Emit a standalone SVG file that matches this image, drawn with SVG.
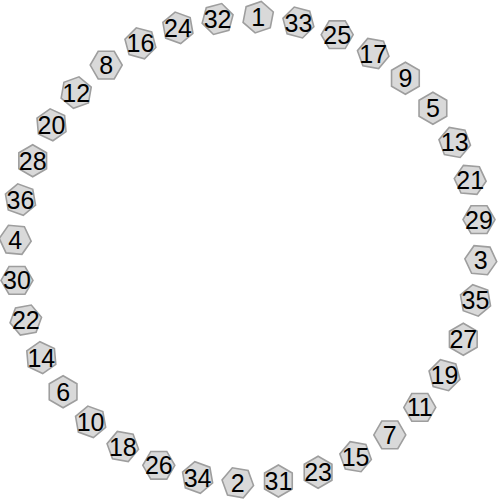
<svg xmlns="http://www.w3.org/2000/svg" xmlns:xlink="http://www.w3.org/1999/xlink" width="500" height="500" viewBox="0 0 500 500">
<style>
.hex{fill:#d9d9d9;stroke:#9e9e9e;stroke-width:1.6}
.lbl{font-family:"Liberation Sans",Arial,sans-serif;font-size:25px;fill:#000;text-anchor:middle}
</style>
<defs>
<polygon id="h" points="16,0 8,13.86 -8,13.86 -16,0 -8,-13.86 8,-13.86"/>
</defs>
<rect width="500" height="500" fill="#fff"/>
<g id="connectors"/>
<g id="n1"><use xlink:href="#h" class="hex" transform="translate(258.2,17.2) rotate(41)"/><text class="lbl" x="258.2" y="26.2">1</text></g>
<g id="n33"><use xlink:href="#h" class="hex" transform="translate(298.4,22.5) rotate(15)"/><text class="lbl" x="298.4" y="31.5">33</text></g>
<g id="n25"><use xlink:href="#h" class="hex" transform="translate(337.2,34.7) rotate(0)"/><text class="lbl" x="337.2" y="43.7">25</text></g>
<g id="n17"><use xlink:href="#h" class="hex" transform="translate(373.2,53.5) rotate(10)"/><text class="lbl" x="373.2" y="62.5">17</text></g>
<g id="n9"><use xlink:href="#h" class="hex" transform="translate(405.4,78.2) rotate(30)"/><text class="lbl" x="405.4" y="87.2">9</text></g>
<g id="n5"><use xlink:href="#h" class="hex" transform="translate(432.9,108.2) rotate(30)"/><text class="lbl" x="432.9" y="117.2">5</text></g>
<g id="n13"><use xlink:href="#h" class="hex" transform="translate(454.7,142.4) rotate(10)"/><text class="lbl" x="454.7" y="151.4">13</text></g>
<g id="n21"><use xlink:href="#h" class="hex" transform="translate(470.2,179.9) rotate(5)"/><text class="lbl" x="470.2" y="188.9">21</text></g>
<g id="n29"><use xlink:href="#h" class="hex" transform="translate(479,219.6) rotate(0)"/><text class="lbl" x="479" y="228.6">29</text></g>
<g id="n3"><use xlink:href="#h" class="hex" transform="translate(480.8,260.2) rotate(5)"/><text class="lbl" x="480.8" y="269.2">3</text></g>
<g id="n35"><use xlink:href="#h" class="hex" transform="translate(475.5,300.4) rotate(20)"/><text class="lbl" x="475.5" y="309.4">35</text></g>
<g id="n27"><use xlink:href="#h" class="hex" transform="translate(463.3,339.2) rotate(30)"/><text class="lbl" x="463.3" y="348.2">27</text></g>
<g id="n19"><use xlink:href="#h" class="hex" transform="translate(444.5,375.2) rotate(15)"/><text class="lbl" x="444.5" y="384.2">19</text></g>
<g id="n11"><use xlink:href="#h" class="hex" transform="translate(419.8,407.4) rotate(0)"/><text class="lbl" x="419.8" y="416.4">11</text></g>
<g id="n7"><use xlink:href="#h" class="hex" transform="translate(389.8,434.9) rotate(0)"/><text class="lbl" x="389.8" y="443.9">7</text></g>
<g id="n15"><use xlink:href="#h" class="hex" transform="translate(355.6,456.7) rotate(10)"/><text class="lbl" x="355.6" y="465.7">15</text></g>
<g id="n23"><use xlink:href="#h" class="hex" transform="translate(318.1,472.2) rotate(30)"/><text class="lbl" x="318.1" y="481.2">23</text></g>
<g id="n31"><use xlink:href="#h" class="hex" transform="translate(278.4,481) rotate(30)"/><text class="lbl" x="278.4" y="490">31</text></g>
<g id="n2"><use xlink:href="#h" class="hex" transform="translate(237.8,482.8) rotate(10)"/><text class="lbl" x="237.8" y="491.8">2</text></g>
<g id="n34"><use xlink:href="#h" class="hex" transform="translate(197.6,477.5) rotate(20)"/><text class="lbl" x="197.6" y="486.5">34</text></g>
<g id="n26"><use xlink:href="#h" class="hex" transform="translate(158.8,465.3) rotate(0)"/><text class="lbl" x="158.8" y="474.3">26</text></g>
<g id="n18"><use xlink:href="#h" class="hex" transform="translate(122.8,446.5) rotate(10)"/><text class="lbl" x="122.8" y="455.5">18</text></g>
<g id="n10"><use xlink:href="#h" class="hex" transform="translate(90.6,421.8) rotate(20)"/><text class="lbl" x="90.6" y="430.8">10</text></g>
<g id="n6"><use xlink:href="#h" class="hex" transform="translate(63.1,391.8) rotate(30)"/><text class="lbl" x="63.1" y="400.8">6</text></g>
<g id="n14"><use xlink:href="#h" class="hex" transform="translate(41.3,357.6) rotate(25)"/><text class="lbl" x="41.3" y="366.6">14</text></g>
<g id="n22"><use xlink:href="#h" class="hex" transform="translate(25.8,320.1) rotate(-10)"/><text class="lbl" x="25.8" y="329.1">22</text></g>
<g id="n30"><use xlink:href="#h" class="hex" transform="translate(17,280.4) rotate(0)"/><text class="lbl" x="17" y="289.4">30</text></g>
<g id="n4"><use xlink:href="#h" class="hex" transform="translate(15.2,239.8) rotate(5)"/><text class="lbl" x="15.2" y="248.8">4</text></g>
<g id="n36"><use xlink:href="#h" class="hex" transform="translate(20.5,199.6) rotate(20)"/><text class="lbl" x="20.5" y="208.6">36</text></g>
<g id="n28"><use xlink:href="#h" class="hex" transform="translate(32.7,160.8) rotate(30)"/><text class="lbl" x="32.7" y="169.8">28</text></g>
<g id="n20"><use xlink:href="#h" class="hex" transform="translate(51.5,124.8) rotate(25)"/><text class="lbl" x="51.5" y="133.8">20</text></g>
<g id="n12"><use xlink:href="#h" class="hex" transform="translate(76.2,92.6) rotate(-20)"/><text class="lbl" x="76.2" y="101.6">12</text></g>
<g id="n8"><use xlink:href="#h" class="hex" transform="translate(106.2,65.1) rotate(0)"/><text class="lbl" x="106.2" y="74.1">8</text></g>
<g id="n16"><use xlink:href="#h" class="hex" transform="translate(140.4,43.3) rotate(15)"/><text class="lbl" x="140.4" y="52.3">16</text></g>
<g id="n24"><use xlink:href="#h" class="hex" transform="translate(177.9,27.8) rotate(20)"/><text class="lbl" x="177.9" y="36.8">24</text></g>
<g id="n32"><use xlink:href="#h" class="hex" transform="translate(217.6,19) rotate(-15)"/><text class="lbl" x="217.6" y="28">32</text></g>
</svg>
